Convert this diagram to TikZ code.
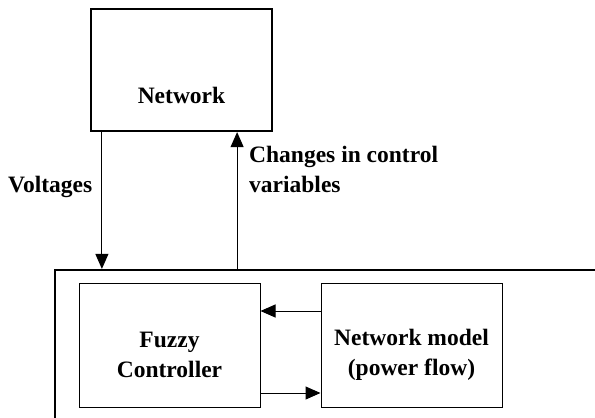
\documentclass[tikz,border=0pt]{standalone}
\usepackage{fontspec}
\setmainfont{Liberation Serif}
\usetikzlibrary{positioning, arrows.meta}

\begin{document}
\begin{tikzpicture}[
    x=1pt,
    y=-1pt,
    >={Triangle[length=15pt, width=13pt]},
    font=\fontsize{23.5}{30}\selectfont\bfseries,
    block/.style={
        draw,
        line width=1pt,
        minimum width=181pt,
        minimum height=124pt,
    },
    plant/.style={
        draw,
        line width=2.2pt,
        minimum width=181pt,
        minimum height=122pt,
    },
    frame/.style={
        draw,
        line width=2.2pt,
        minimum width=585pt,
        minimum height=190pt,
    },
    lbl/.style={align=center, inner sep=0pt},
    signal/.style={->, line width=1pt},
]

\useasboundingbox (0,0) rectangle (595,418);
\clip (0,0) rectangle (595,418);

% --- Blocks ---
\node[plant]  (net)    at (181.5,70) {};
\node[lbl]    (netlbl) at ([yshift=-25pt]net.center) {Network};
\node[frame]  (tool)   at (347.5,365) {};
\node[block, label={[lbl, yshift=-10pt]center:{Fuzzy\\Controller}}]
              (fuzzy)  at (169.5,345) {};
\node[block, label={[lbl, yshift=-10pt]center:{Network model\\(power flow)}}]
              (model)  at (411.5,345) {};

% --- Signals ---
\coordinate (vin)  at ([xshift=12pt]net.south west);
\coordinate (cout) at ([xshift=-36pt]net.south east);
\coordinate (fb)   at ([yshift=34pt]model.west);
\coordinate (ff)   at ([yshift=-48pt]fuzzy.east);

\draw[signal] (vin) -- (vin |- tool.north);
\draw[signal] (cout |- tool.north) -- (cout);
\draw[signal] (fb) -- (fb -| fuzzy.east);
\draw[signal] (ff) -- (ff -| model.west);

% --- Labels ---
\node[anchor=base west, inner sep=0pt] (vlbl) at (8,192) {Voltages};
\node[anchor=base west, inner sep=0pt, align=left] (clbl) at (249,192)
    {Changes in control\\variables};

\end{tikzpicture}
\end{document}
